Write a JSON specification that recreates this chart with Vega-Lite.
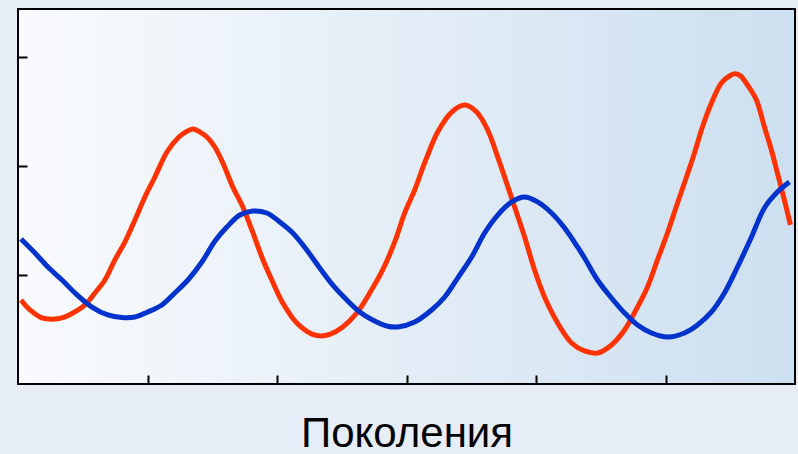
{
  "$schema": "https://vega.github.io/schema/vega-lite/v6.json",
  "width": 777,
  "height": 375,
  "autosize": {"type": "none"},
  "padding": {"left": 18, "top": 9, "right": 3, "bottom": 70},
  "background": "#e6edf6",
  "config": {
    "view": {
      "stroke": "#000000",
      "strokeWidth": 2,
      "fill": {
        "gradient": "linear",
        "x1": 0, "y1": 0, "x2": 1, "y2": 0,
        "stops": [
          {"offset": 0, "color": "#f9fbfd"},
          {"offset": 1, "color": "#cddff0"}
        ]
      }
    },
    "axis": {"grid": false, "labels": false, "domain": false, "ticks": true, "tickColor": "#000000", "tickWidth": 2, "tickSize": -9}
  },
  "datasets": {
    "series": [
      {"s": "жертвы", "g": 0.23, "v": 7.71},
      {"s": "жертвы", "g": 0.93, "v": 6.79},
      {"s": "жертвы", "g": 1.85, "v": 6.06},
      {"s": "жертвы", "g": 2.62, "v": 5.95},
      {"s": "жертвы", "g": 3.40, "v": 6.06},
      {"s": "жертвы", "g": 4.24, "v": 6.51},
      {"s": "жертвы", "g": 5.17, "v": 7.25},
      {"s": "жертвы", "g": 5.94, "v": 8.35},
      {"s": "жертвы", "g": 6.71, "v": 9.54},
      {"s": "жертвы", "g": 7.48, "v": 11.38},
      {"s": "жертвы", "g": 8.26, "v": 13.03},
      {"s": "жертвы", "g": 9.03, "v": 15.05},
      {"s": "жертвы", "g": 9.80, "v": 17.16},
      {"s": "жертвы", "g": 10.57, "v": 18.99},
      {"s": "жертвы", "g": 11.50, "v": 21.28},
      {"s": "жертвы", "g": 12.35, "v": 22.57},
      {"s": "жертвы", "g": 13.00, "v": 23.15},
      {"s": "жертвы", "g": 13.50, "v": 23.40},
      {"s": "жертвы", "g": 14.00, "v": 23.15},
      {"s": "жертвы", "g": 14.66, "v": 22.57},
      {"s": "жертвы", "g": 15.20, "v": 21.74},
      {"s": "жертвы", "g": 15.82, "v": 20.28},
      {"s": "жертвы", "g": 16.59, "v": 18.07},
      {"s": "жертвы", "g": 17.36, "v": 16.24},
      {"s": "жертвы", "g": 18.06, "v": 14.13},
      {"s": "жертвы", "g": 18.83, "v": 11.65},
      {"s": "жертвы", "g": 19.60, "v": 9.54},
      {"s": "жертвы", "g": 20.45, "v": 7.43},
      {"s": "жертвы", "g": 21.53, "v": 5.60},
      {"s": "жертвы", "g": 22.76, "v": 4.55},
      {"s": "жертвы", "g": 23.40, "v": 4.40},
      {"s": "жертвы", "g": 24.07, "v": 4.55},
      {"s": "жертвы", "g": 25.08, "v": 5.23},
      {"s": "жертвы", "g": 26.16, "v": 6.51},
      {"s": "жертвы", "g": 27.16, "v": 8.35},
      {"s": "жертвы", "g": 28.16, "v": 10.46},
      {"s": "жертвы", "g": 29.09, "v": 13.03},
      {"s": "жертвы", "g": 29.86, "v": 15.69},
      {"s": "жертвы", "g": 30.63, "v": 17.80},
      {"s": "жертвы", "g": 31.40, "v": 20.28},
      {"s": "жертвы", "g": 32.41, "v": 23.12},
      {"s": "жертвы", "g": 33.49, "v": 24.95},
      {"s": "жертвы", "g": 34.49, "v": 25.60},
      {"s": "жертвы", "g": 35.42, "v": 24.95},
      {"s": "жертвы", "g": 36.27, "v": 23.30},
      {"s": "жертвы", "g": 37.04, "v": 20.83},
      {"s": "жертвы", "g": 37.73, "v": 18.44},
      {"s": "жертвы", "g": 38.35, "v": 16.24},
      {"s": "жертвы", "g": 39.12, "v": 13.49},
      {"s": "жертвы", "g": 39.89, "v": 10.46},
      {"s": "жертвы", "g": 40.66, "v": 7.98},
      {"s": "жертвы", "g": 41.67, "v": 5.60},
      {"s": "жертвы", "g": 42.75, "v": 3.76},
      {"s": "жертвы", "g": 43.75, "v": 3.03},
      {"s": "жертвы", "g": 44.75, "v": 2.84},
      {"s": "жертвы", "g": 45.83, "v": 3.58},
      {"s": "жертвы", "g": 46.84, "v": 4.95},
      {"s": "жертвы", "g": 47.84, "v": 7.06},
      {"s": "жертвы", "g": 48.61, "v": 8.90},
      {"s": "жертвы", "g": 49.38, "v": 11.38},
      {"s": "жертвы", "g": 50.15, "v": 13.85},
      {"s": "жертвы", "g": 50.93, "v": 16.61},
      {"s": "жертвы", "g": 51.62, "v": 18.99},
      {"s": "жертвы", "g": 52.24, "v": 21.19},
      {"s": "жертвы", "g": 52.85, "v": 23.58},
      {"s": "жертвы", "g": 53.55, "v": 25.78},
      {"s": "жертвы", "g": 54.32, "v": 27.61},
      {"s": "жертвы", "g": 55.00, "v": 28.30},
      {"s": "жертвы", "g": 55.40, "v": 28.45},
      {"s": "жертвы", "g": 55.80, "v": 28.25},
      {"s": "жертвы", "g": 56.33, "v": 27.43},
      {"s": "жертвы", "g": 57.02, "v": 26.06},
      {"s": "жертвы", "g": 57.64, "v": 23.58},
      {"s": "жертвы", "g": 58.18, "v": 21.47},
      {"s": "жертвы", "g": 58.64, "v": 19.36},
      {"s": "жертвы", "g": 59.18, "v": 16.88},
      {"s": "жертвы", "g": 59.65, "v": 14.59},
      {"s": "хищники", "g": 0.23, "v": 13.30},
      {"s": "хищники", "g": 1.31, "v": 12.02},
      {"s": "хищники", "g": 2.31, "v": 10.73},
      {"s": "хищники", "g": 3.40, "v": 9.54},
      {"s": "хищники", "g": 4.40, "v": 8.35},
      {"s": "хищники", "g": 5.71, "v": 7.06},
      {"s": "хищники", "g": 6.94, "v": 6.33},
      {"s": "хищники", "g": 8.02, "v": 6.10},
      {"s": "хищники", "g": 9.03, "v": 6.15},
      {"s": "хищники", "g": 10.03, "v": 6.61},
      {"s": "хищники", "g": 11.11, "v": 7.25},
      {"s": "хищники", "g": 12.11, "v": 8.35},
      {"s": "хищники", "g": 13.12, "v": 9.54},
      {"s": "хищники", "g": 14.20, "v": 11.19},
      {"s": "хищники", "g": 15.20, "v": 13.10},
      {"s": "хищники", "g": 16.13, "v": 14.40},
      {"s": "хищники", "g": 17.13, "v": 15.50},
      {"s": "хищники", "g": 18.13, "v": 15.87},
      {"s": "хищники", "g": 19.21, "v": 15.69},
      {"s": "хищники", "g": 20.22, "v": 14.86},
      {"s": "хищники", "g": 21.22, "v": 13.85},
      {"s": "хищники", "g": 22.30, "v": 12.29},
      {"s": "хищники", "g": 23.30, "v": 10.64},
      {"s": "хищники", "g": 24.31, "v": 9.08},
      {"s": "хищники", "g": 25.39, "v": 7.71},
      {"s": "хищники", "g": 26.39, "v": 6.61},
      {"s": "хищники", "g": 27.39, "v": 5.87},
      {"s": "хищники", "g": 28.47, "v": 5.32},
      {"s": "хищники", "g": 29.32, "v": 5.23},
      {"s": "хищники", "g": 30.63, "v": 5.69},
      {"s": "хищники", "g": 31.94, "v": 6.79},
      {"s": "хищники", "g": 32.95, "v": 7.98},
      {"s": "хищники", "g": 33.95, "v": 9.72},
      {"s": "хищники", "g": 35.03, "v": 11.65},
      {"s": "хищники", "g": 36.03, "v": 13.85},
      {"s": "хищники", "g": 37.04, "v": 15.50},
      {"s": "хищники", "g": 38.12, "v": 16.70},
      {"s": "хищники", "g": 39.12, "v": 17.16},
      {"s": "хищники", "g": 40.12, "v": 16.70},
      {"s": "хищники", "g": 41.20, "v": 15.69},
      {"s": "хищники", "g": 42.21, "v": 14.31},
      {"s": "хищники", "g": 43.21, "v": 12.57},
      {"s": "хищники", "g": 43.75, "v": 11.56},
      {"s": "хищники", "g": 44.75, "v": 9.54},
      {"s": "хищники", "g": 45.83, "v": 7.89},
      {"s": "хищники", "g": 46.84, "v": 6.51},
      {"s": "хищники", "g": 47.84, "v": 5.41},
      {"s": "хищники", "g": 48.92, "v": 4.68},
      {"s": "хищники", "g": 50.15, "v": 4.31},
      {"s": "хищники", "g": 51.47, "v": 4.68},
      {"s": "хищники", "g": 52.47, "v": 5.41},
      {"s": "хищники", "g": 53.55, "v": 6.61},
      {"s": "хищники", "g": 54.55, "v": 8.35},
      {"s": "хищники", "g": 55.56, "v": 10.73},
      {"s": "хищники", "g": 56.64, "v": 13.49},
      {"s": "хищники", "g": 57.64, "v": 16.15},
      {"s": "хищники", "g": 58.64, "v": 17.61},
      {"s": "хищники", "g": 59.57, "v": 18.53}
    ]
  },
  "data": {"name": "series"},
  "mark": {"type": "line", "strokeWidth": 5, "interpolate": "catmull-rom"},
  "encoding": {
    "x": {
      "field": "g", "type": "quantitative",
      "scale": {"domain": [0, 60], "nice": false, "zero": false},
      "axis": {
        "values": [10, 20, 30, 40, 50],
        "title": "Поколения",
        "titleFont": "Liberation Sans",
        "titleFontSize": 42,
        "titleFontWeight": "normal",
        "titleColor": "#000000",
        "titlePadding": 28
      }
    },
    "y": {
      "field": "v", "type": "quantitative",
      "scale": {"domain": [0, 34.4], "nice": false, "zero": false},
      "axis": {"values": [10, 20, 30], "title": null}
    },
    "color": {
      "field": "s", "type": "nominal",
      "scale": {"domain": ["жертвы", "хищники"], "range": ["#ff3300", "#0033cc"]},
      "legend": null
    }
  }
}
